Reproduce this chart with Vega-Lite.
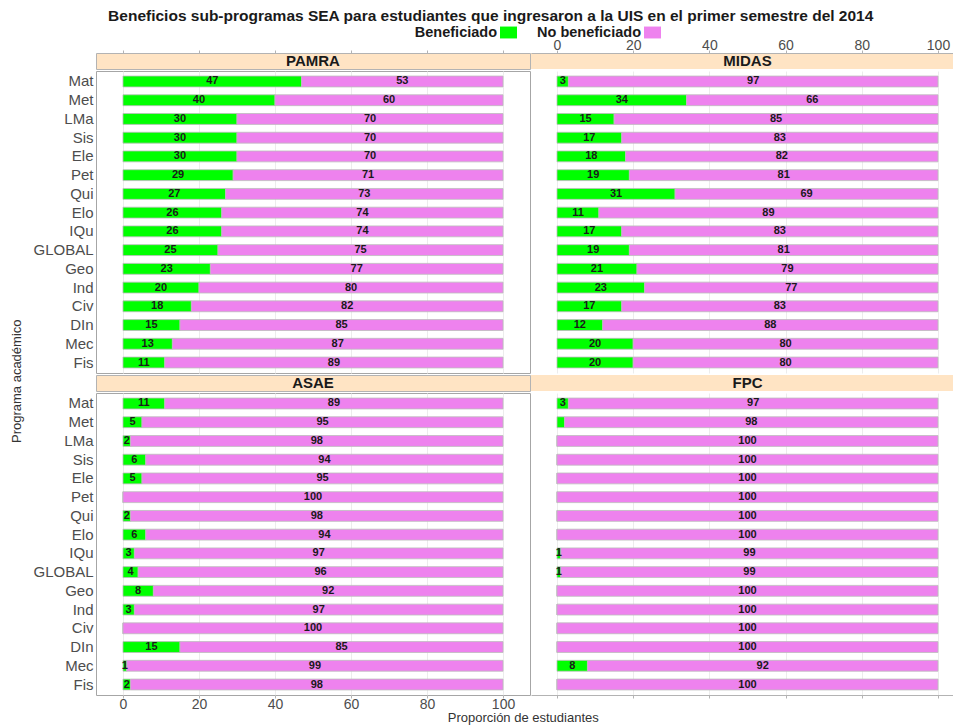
{
  "$schema": "https://vega.github.io/schema/vega-lite/v6.json",
  "padding": {"left": 11, "top": 8, "right": 0, "bottom": 0},
  "title": {
    "text": "Beneficios sub-programas SEA para estudiantes que ingresaron a la UIS en el primer semestre del 2014",
    "anchor": "middle", "fontSize": 15.5, "fontWeight": "bold", "color": "#1a1a1a", "offset": 0, "dx": 8
  },
  "config": {
    "font": "Liberation Sans",
    "view": {"stroke": null},
    "axis": {"labelFont": "Liberation Sans", "titleFont": "Liberation Sans"},
    "legend": {"labelFont": "Liberation Sans"}
  },
  "datasets": {
    "sea": [
      {"subprograma": "PAMRA", "programa": "Mat", "Beneficiado": 47, "No beneficiado": 53},
      {"subprograma": "PAMRA", "programa": "Met", "Beneficiado": 40, "No beneficiado": 60},
      {"subprograma": "PAMRA", "programa": "LMa", "Beneficiado": 30, "No beneficiado": 70},
      {"subprograma": "PAMRA", "programa": "Sis", "Beneficiado": 30, "No beneficiado": 70},
      {"subprograma": "PAMRA", "programa": "Ele", "Beneficiado": 30, "No beneficiado": 70},
      {"subprograma": "PAMRA", "programa": "Pet", "Beneficiado": 29, "No beneficiado": 71},
      {"subprograma": "PAMRA", "programa": "Qui", "Beneficiado": 27, "No beneficiado": 73},
      {"subprograma": "PAMRA", "programa": "Elo", "Beneficiado": 26, "No beneficiado": 74},
      {"subprograma": "PAMRA", "programa": "IQu", "Beneficiado": 26, "No beneficiado": 74},
      {"subprograma": "PAMRA", "programa": "GLOBAL", "Beneficiado": 25, "No beneficiado": 75},
      {"subprograma": "PAMRA", "programa": "Geo", "Beneficiado": 23, "No beneficiado": 77},
      {"subprograma": "PAMRA", "programa": "Ind", "Beneficiado": 20, "No beneficiado": 80},
      {"subprograma": "PAMRA", "programa": "Civ", "Beneficiado": 18, "No beneficiado": 82},
      {"subprograma": "PAMRA", "programa": "DIn", "Beneficiado": 15, "No beneficiado": 85},
      {"subprograma": "PAMRA", "programa": "Mec", "Beneficiado": 13, "No beneficiado": 87},
      {"subprograma": "PAMRA", "programa": "Fis", "Beneficiado": 11, "No beneficiado": 89},
      {"subprograma": "MIDAS", "programa": "Mat", "Beneficiado": 3, "No beneficiado": 97},
      {"subprograma": "MIDAS", "programa": "Met", "Beneficiado": 34, "No beneficiado": 66},
      {"subprograma": "MIDAS", "programa": "LMa", "Beneficiado": 15, "No beneficiado": 85},
      {"subprograma": "MIDAS", "programa": "Sis", "Beneficiado": 17, "No beneficiado": 83},
      {"subprograma": "MIDAS", "programa": "Ele", "Beneficiado": 18, "No beneficiado": 82},
      {"subprograma": "MIDAS", "programa": "Pet", "Beneficiado": 19, "No beneficiado": 81},
      {"subprograma": "MIDAS", "programa": "Qui", "Beneficiado": 31, "No beneficiado": 69},
      {"subprograma": "MIDAS", "programa": "Elo", "Beneficiado": 11, "No beneficiado": 89},
      {"subprograma": "MIDAS", "programa": "IQu", "Beneficiado": 17, "No beneficiado": 83},
      {"subprograma": "MIDAS", "programa": "GLOBAL", "Beneficiado": 19, "No beneficiado": 81},
      {"subprograma": "MIDAS", "programa": "Geo", "Beneficiado": 21, "No beneficiado": 79},
      {"subprograma": "MIDAS", "programa": "Ind", "Beneficiado": 23, "No beneficiado": 77},
      {"subprograma": "MIDAS", "programa": "Civ", "Beneficiado": 17, "No beneficiado": 83},
      {"subprograma": "MIDAS", "programa": "DIn", "Beneficiado": 12, "No beneficiado": 88},
      {"subprograma": "MIDAS", "programa": "Mec", "Beneficiado": 20, "No beneficiado": 80},
      {"subprograma": "MIDAS", "programa": "Fis", "Beneficiado": 20, "No beneficiado": 80},
      {"subprograma": "ASAE", "programa": "Mat", "Beneficiado": 11, "No beneficiado": 89},
      {"subprograma": "ASAE", "programa": "Met", "Beneficiado": 5, "No beneficiado": 95},
      {"subprograma": "ASAE", "programa": "LMa", "Beneficiado": 2, "No beneficiado": 98},
      {"subprograma": "ASAE", "programa": "Sis", "Beneficiado": 6, "No beneficiado": 94},
      {"subprograma": "ASAE", "programa": "Ele", "Beneficiado": 5, "No beneficiado": 95},
      {"subprograma": "ASAE", "programa": "Pet", "Beneficiado": 0, "No beneficiado": 100},
      {"subprograma": "ASAE", "programa": "Qui", "Beneficiado": 2, "No beneficiado": 98},
      {"subprograma": "ASAE", "programa": "Elo", "Beneficiado": 6, "No beneficiado": 94},
      {"subprograma": "ASAE", "programa": "IQu", "Beneficiado": 3, "No beneficiado": 97},
      {"subprograma": "ASAE", "programa": "GLOBAL", "Beneficiado": 4, "No beneficiado": 96},
      {"subprograma": "ASAE", "programa": "Geo", "Beneficiado": 8, "No beneficiado": 92},
      {"subprograma": "ASAE", "programa": "Ind", "Beneficiado": 3, "No beneficiado": 97},
      {"subprograma": "ASAE", "programa": "Civ", "Beneficiado": 0, "No beneficiado": 100},
      {"subprograma": "ASAE", "programa": "DIn", "Beneficiado": 15, "No beneficiado": 85},
      {"subprograma": "ASAE", "programa": "Mec", "Beneficiado": 1, "No beneficiado": 99},
      {"subprograma": "ASAE", "programa": "Fis", "Beneficiado": 2, "No beneficiado": 98},
      {"subprograma": "FPC", "programa": "Mat", "Beneficiado": 3, "No beneficiado": 97},
      {"subprograma": "FPC", "programa": "Met", "Beneficiado": 2, "No beneficiado": 98, "sin_etiqueta": "Beneficiado"},
      {"subprograma": "FPC", "programa": "LMa", "Beneficiado": 0, "No beneficiado": 100},
      {"subprograma": "FPC", "programa": "Sis", "Beneficiado": 0, "No beneficiado": 100},
      {"subprograma": "FPC", "programa": "Ele", "Beneficiado": 0, "No beneficiado": 100},
      {"subprograma": "FPC", "programa": "Pet", "Beneficiado": 0, "No beneficiado": 100},
      {"subprograma": "FPC", "programa": "Qui", "Beneficiado": 0, "No beneficiado": 100},
      {"subprograma": "FPC", "programa": "Elo", "Beneficiado": 0, "No beneficiado": 100},
      {"subprograma": "FPC", "programa": "IQu", "Beneficiado": 1, "No beneficiado": 99},
      {"subprograma": "FPC", "programa": "GLOBAL", "Beneficiado": 1, "No beneficiado": 99},
      {"subprograma": "FPC", "programa": "Geo", "Beneficiado": 0, "No beneficiado": 100},
      {"subprograma": "FPC", "programa": "Ind", "Beneficiado": 0, "No beneficiado": 100},
      {"subprograma": "FPC", "programa": "Civ", "Beneficiado": 0, "No beneficiado": 100},
      {"subprograma": "FPC", "programa": "DIn", "Beneficiado": 0, "No beneficiado": 100},
      {"subprograma": "FPC", "programa": "Mec", "Beneficiado": 8, "No beneficiado": 92},
      {"subprograma": "FPC", "programa": "Fis", "Beneficiado": 0, "No beneficiado": 100}
    ]
  },
  "data": {"name": "sea"},
  "transform": [
    {"fold": ["Beneficiado", "No beneficiado"], "as": ["estado", "valor"]},
    {"stack": "valor", "groupby": ["subprograma", "programa"], "sort": [{"field": "estado", "order": "ascending"}], "as": ["inicio", "fin"]},
    {"calculate": "(datum.inicio + datum.fin) / 2", "as": "centro"}
  ],
  "vconcat": [
    {
      "title": {"text": "Programa académico", "orient": "left", "anchor": "middle", "fontSize": 13, "fontWeight": "normal", "color": "#333333", "offset": 8},
      "vconcat": [
        {
          "title": {"text": "Proporción de estudiantes", "orient": "bottom", "anchor": "middle", "fontSize": 13, "fontWeight": "normal", "color": "#333333", "offset": 0, "dx": 30},
          "columns": 2,
          "spacing": 0,
          "resolve": {"scale": {"x": "independent", "y": "independent"}, "axis": {"x": "independent", "y": "independent"}},
          "concat": [
            {
              "width": 434, "height": 16,
              "data": {"values": [{"subprograma": "PAMRA"}]},
              "view": {"fill": "bisque", "stroke": "#b3b3b3"},
              "mark": {"type": "text", "fontWeight": "bold", "fontSize": 15, "color": "#1a1a1a", "baseline": "middle"},
              "encoding": {
                "text": {"field": "subprograma"},
                "x": {"datum": 50, "type": "quantitative", "scale": {"domain": [-7.1, 107.1], "nice": false, "zero": false},
                      "axis": {"orient": "top", "values": [0, 20, 40, 60, 80, 100], "labels": false, "ticks": true, "tickSize": 3, "tickColor": "#b3b3b3", "domain": false, "grid": false, "title": null}}
              }
            },
            {
              "width": 423, "height": 16,
              "data": {"values": [{"subprograma": "MIDAS"}]},
              "view": {"fill": "bisque", "stroke": null},
              "mark": {"type": "text", "fontWeight": "bold", "fontSize": 15, "color": "#1a1a1a", "baseline": "middle"},
              "encoding": {
                "text": {"field": "subprograma"},
                "x": {"datum": 50, "type": "quantitative", "scale": {"domain": [-6.82, 104.2], "nice": false, "zero": false},
                      "axis": {"orient": "top", "values": [0, 20, 40, 60, 80, 100], "labels": true, "labelFontSize": 14, "labelColor": "#4d4d4d", "labelPadding": -2, "ticks": true, "tickSize": 3, "tickColor": "#b3b3b3", "domain": true, "domainColor": "#b3b3b3", "grid": false, "title": null}}
              }
            },
            {
              "width": 434, "height": 302,
              "transform": [{"filter": "datum.subprograma == 'PAMRA'"}],
              "view": {"stroke": "#a6a6a6"},
              "encoding": {
                "y": {"field": "programa", "type": "nominal",
                      "scale": {"domain": ["Mat", "Met", "LMa", "Sis", "Ele", "Pet", "Qui", "Elo", "IQu", "GLOBAL", "Geo", "Ind", "Civ", "DIn", "Mec", "Fis"], "paddingInner": 0.42, "paddingOuter": 0.27},
                      "axis": {"title": null, "ticks": false, "domain": false, "labelFontSize": 15, "labelColor": "#4d4d4d", "labelPadding": 3}}
              },
              "layer": [
                {"mark": {"type": "bar", "stroke": "#bdbdbd", "strokeWidth": 0.8},
                 "encoding": {
                   "x": {"field": "inicio", "type": "quantitative", "scale": {"domain": [-7.1, 107.1], "nice": false, "zero": false},
                         "axis": {"values": [0, 20, 40, 60, 80, 100], "grid": true, "gridColor": "#ececec", "labels": false, "ticks": false, "domain": false, "title": null}},
                   "x2": {"field": "fin"},
                   "color": {"field": "estado", "type": "nominal",
                     "scale": {"domain": ["Beneficiado", "No beneficiado"], "range": ["#00ff00", "#ee82ee"]},
                     "legend": {"title": null, "orient": "none", "legendX": 404, "legendY": -29, "direction": "horizontal", "symbolType": "M-1,-0.7H1V0.7H-1Z", "symbolSize": 289, "symbolStrokeWidth": 0, "labelFontSize": 14.5, "labelFontWeight": "bold", "labelColor": "#1a1a1a", "labelAlign": "right", "labelOffset": -20, "columnPadding": 20}}}},
                {"transform": [{"filter": "datum.valor > 0 && datum.sin_etiqueta != datum.estado"}],
                 "mark": {"type": "text", "fontWeight": "bold", "fontSize": 11, "color": "#1a1a1a", "baseline": "middle"},
                 "encoding": {"x": {"field": "centro", "type": "quantitative"}, "text": {"field": "valor"}}}
              ]
            },
            {
              "width": 423, "height": 302,
              "transform": [{"filter": "datum.subprograma == 'MIDAS'"}],
              "encoding": {
                "y": {"field": "programa", "type": "nominal",
                      "scale": {"domain": ["Mat", "Met", "LMa", "Sis", "Ele", "Pet", "Qui", "Elo", "IQu", "GLOBAL", "Geo", "Ind", "Civ", "DIn", "Mec", "Fis"], "paddingInner": 0.42, "paddingOuter": 0.27},
                      "axis": null}
              },
              "layer": [
                {"mark": {"type": "bar", "stroke": "#bdbdbd", "strokeWidth": 0.8},
                 "encoding": {
                   "x": {"field": "inicio", "type": "quantitative", "scale": {"domain": [-6.82, 104.2], "nice": false, "zero": false},
                         "axis": {"values": [0, 20, 40, 60, 80, 100], "grid": true, "gridColor": "#ececec", "labels": false, "ticks": false, "domain": false, "title": null}},
                   "x2": {"field": "fin"},
                   "color": {"field": "estado", "type": "nominal"}}},
                {"transform": [{"filter": "datum.valor > 0 && datum.sin_etiqueta != datum.estado"}],
                 "mark": {"type": "text", "fontWeight": "bold", "fontSize": 11, "color": "#1a1a1a", "baseline": "middle"},
                 "encoding": {"x": {"field": "centro", "type": "quantitative"}, "text": {"field": "valor"}}}
              ]
            },
            {
              "width": 434, "height": 16,
              "data": {"values": [{"subprograma": "ASAE"}]},
              "view": {"fill": "bisque", "stroke": "#b3b3b3"},
              "mark": {"type": "text", "fontWeight": "bold", "fontSize": 15, "color": "#1a1a1a", "baseline": "middle"},
              "encoding": {
                "text": {"field": "subprograma"},
                "x": {"datum": 50, "type": "quantitative", "scale": {"domain": [-7.1, 107.1], "nice": false, "zero": false}, "axis": null}
              }
            },
            {
              "width": 423, "height": 16,
              "data": {"values": [{"subprograma": "FPC"}]},
              "view": {"fill": "bisque", "stroke": null},
              "mark": {"type": "text", "fontWeight": "bold", "fontSize": 15, "color": "#1a1a1a", "baseline": "middle"},
              "encoding": {
                "text": {"field": "subprograma"},
                "x": {"datum": 50, "type": "quantitative", "scale": {"domain": [-6.82, 104.2], "nice": false, "zero": false}, "axis": null}
              }
            },
            {
              "width": 434, "height": 302,
              "transform": [{"filter": "datum.subprograma == 'ASAE'"}],
              "view": {"stroke": "#a6a6a6"},
              "encoding": {
                "y": {"field": "programa", "type": "nominal",
                      "scale": {"domain": ["Mat", "Met", "LMa", "Sis", "Ele", "Pet", "Qui", "Elo", "IQu", "GLOBAL", "Geo", "Ind", "Civ", "DIn", "Mec", "Fis"], "paddingInner": 0.42, "paddingOuter": 0.27},
                      "axis": {"title": null, "ticks": false, "domain": false, "labelFontSize": 15, "labelColor": "#4d4d4d", "labelPadding": 3}}
              },
              "layer": [
                {"mark": {"type": "bar", "stroke": "#bdbdbd", "strokeWidth": 0.8},
                 "encoding": {
                   "x": {"field": "inicio", "type": "quantitative", "scale": {"domain": [-7.1, 107.1], "nice": false, "zero": false},
                         "axis": {"orient": "bottom", "values": [0, 20, 40, 60, 80, 100], "grid": true, "gridColor": "#ececec", "labels": true, "labelFontSize": 14, "labelColor": "#4d4d4d", "labelPadding": -1, "ticks": true, "tickSize": 3, "tickColor": "#b3b3b3", "domain": false, "title": null}},
                   "x2": {"field": "fin"},
                   "color": {"field": "estado", "type": "nominal"}}},
                {"transform": [{"filter": "datum.valor > 0 && datum.sin_etiqueta != datum.estado"}],
                 "mark": {"type": "text", "fontWeight": "bold", "fontSize": 11, "color": "#1a1a1a", "baseline": "middle"},
                 "encoding": {"x": {"field": "centro", "type": "quantitative"}, "text": {"field": "valor"}}}
              ]
            },
            {
              "width": 423, "height": 302,
              "transform": [{"filter": "datum.subprograma == 'FPC'"}],
              "encoding": {
                "y": {"field": "programa", "type": "nominal",
                      "scale": {"domain": ["Mat", "Met", "LMa", "Sis", "Ele", "Pet", "Qui", "Elo", "IQu", "GLOBAL", "Geo", "Ind", "Civ", "DIn", "Mec", "Fis"], "paddingInner": 0.42, "paddingOuter": 0.27},
                      "axis": null}
              },
              "layer": [
                {"mark": {"type": "bar", "stroke": "#bdbdbd", "strokeWidth": 0.8},
                 "encoding": {
                   "x": {"field": "inicio", "type": "quantitative", "scale": {"domain": [-6.82, 104.2], "nice": false, "zero": false},
                         "axis": {"orient": "bottom", "values": [0, 20, 40, 60, 80, 100], "grid": true, "gridColor": "#ececec", "labels": false, "ticks": true, "tickSize": 3, "tickColor": "#b3b3b3", "domain": true, "domainColor": "#b3b3b3", "title": null}},
                   "x2": {"field": "fin"},
                   "color": {"field": "estado", "type": "nominal"}}},
                {"transform": [{"filter": "datum.valor > 0 && datum.sin_etiqueta != datum.estado"}],
                 "mark": {"type": "text", "fontWeight": "bold", "fontSize": 11, "color": "#1a1a1a", "baseline": "middle"},
                 "encoding": {"x": {"field": "centro", "type": "quantitative"}, "text": {"field": "valor"}}}
              ]
            }
          ]
        }
      ]
    }
  ]
}
